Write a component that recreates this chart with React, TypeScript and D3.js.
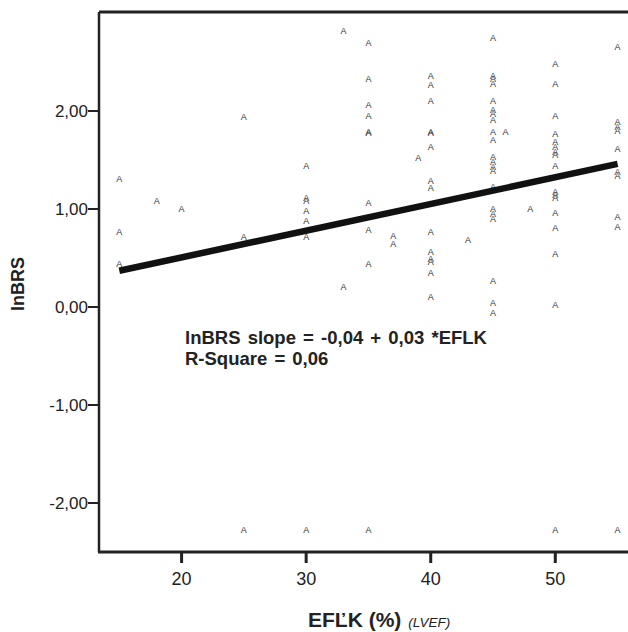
import React, { useEffect, useRef } from 'react';
import * as d3 from 'd3';

// EF levels (x) and the lnBRS values observed at each level
const efLevels = [15, 18, 20, 25, 30, 33, 35, 37, 39, 40, 43, 45, 46, 48, 50, 55];
const lnBrsByEf = [
    [1.31, 0.77, 0.44],
    [1.08],
    [1.0],
    [1.94, 0.71, -2.28],
    [1.44, 1.11, 1.08, 0.98, 0.88, 0.71, -2.28],
    [2.82, 0.2],
    [2.69, 2.33, 2.06, 1.95, 1.79, 1.78, 1.06, 0.79, 0.44, -2.28],
    [0.72, 0.64],
    [1.52],
    [2.36, 2.27, 2.1, 1.79, 1.78, 1.63, 1.29, 1.21, 0.77, 0.56, 0.49, 0.46, 0.35, 0.1],
    [0.68],
    [2.74, 2.36, 2.33, 2.28, 2.1, 2.01, 1.97, 1.91, 1.79, 1.7, 1.53, 1.48, 1.43, 1.39, 1.22, 1.0, 0.95, 0.9, 0.27, 0.04, -0.06],
    [1.79],
    [1.0],
    [2.48, 2.28, 1.95, 1.77, 1.68, 1.63, 1.58, 1.55, 1.44, 1.17, 1.14, 1.11, 0.96, 0.81, 0.54, 0.02, -2.28],
    [2.65, 1.89, 1.84, 1.8, 1.61, 1.38, 1.34, 0.92, 0.82, -2.28],
];

// linear fit lnBRS = a + b * EF, drawn over the observed EF range
const fitIntercept = -0.039;
const fitSlope = 0.02725;
const fitRange = [15, 55];

const xTicks = [20, 30, 40, 50];
const yTicks = [2, 1, 0, -1, -2];
const yTickLabels = ['2,00', '1,00', '0,00', '-1,00', '-2,00'];

const FONT = 'Arial, "Liberation Sans", Helvetica, sans-serif';

const App = () => {
    const svgRef = useRef<SVGSVGElement>(null);
    const width = 628;
    const height = 632;
    const plot = { left: 99, top: 12, bottom: 552, right: 640 };

    useEffect(() => {
        if (!svgRef.current) return;
        const svg = d3.select(svgRef.current);
        svg.selectAll('*').remove();

        const x = d3.scaleLinear().domain([13.37, 56.8]).range([plot.left, plot.right]);
        const y = d3.scaleLinear().domain([-2.5, 3.01]).range([plot.bottom, plot.top]);

        const points = efLevels.flatMap((ef, i) => lnBrsByEf[i].map(v => ({ ef, v })));

        // markers
        svg.append('g')
            .selectAll('text')
            .data(points)
            .join('text')
            .attr('x', d => x(d.ef))
            .attr('y', d => y(d.v))
            .attr('text-anchor', 'middle')
            .attr('dominant-baseline', 'central')
            .attr('font-family', FONT)
            .attr('font-size', 9)
            .attr('fill', '#333')
            .text('A');

        // fit line
        const line = d3.line<number>()
            .x(d => x(d))
            .y(d => y(fitIntercept + fitSlope * d));
        svg.append('path')
            .attr('d', line(fitRange))
            .attr('fill', 'none')
            .attr('stroke', '#111')
            .attr('stroke-width', 6.5);

        // frame
        svg.append('line')
            .attr('x1', plot.left).attr('x2', width)
            .attr('y1', plot.top).attr('y2', plot.top)
            .attr('stroke', '#222').attr('stroke-width', 3);
        svg.append('line')
            .attr('x1', plot.left - 1).attr('x2', width)
            .attr('y1', plot.bottom).attr('y2', plot.bottom)
            .attr('stroke', '#222').attr('stroke-width', 3);
        svg.append('line')
            .attr('x1', plot.left).attr('x2', plot.left)
            .attr('y1', plot.top).attr('y2', plot.bottom)
            .attr('stroke', '#222').attr('stroke-width', 2.5);

        // x axis
        const xAxis = svg.append('g');
        xAxis.selectAll('line')
            .data(xTicks)
            .join('line')
            .attr('x1', d => x(d)).attr('x2', d => x(d))
            .attr('y1', plot.bottom).attr('y2', plot.bottom + 11)
            .attr('stroke', '#222').attr('stroke-width', 3);
        xAxis.selectAll('text')
            .data(xTicks)
            .join('text')
            .attr('x', d => x(d))
            .attr('y', 585)
            .attr('text-anchor', 'middle')
            .attr('font-family', FONT)
            .attr('font-size', 18)
            .attr('fill', '#222')
            .text(d => d);

        // y axis
        const yAxis = svg.append('g');
        yAxis.selectAll('line')
            .data(yTicks)
            .join('line')
            .attr('x1', plot.left - 11).attr('x2', plot.left)
            .attr('y1', d => y(d)).attr('y2', d => y(d))
            .attr('stroke', '#222').attr('stroke-width', 2);
        yAxis.selectAll('text')
            .data(yTicks)
            .join('text')
            .attr('x', plot.left - 11)
            .attr('y', d => y(d))
            .attr('dy', '0.35em')
            .attr('text-anchor', 'end')
            .attr('font-family', FONT)
            .attr('font-size', 17)
            .attr('fill', '#222')
            .text((d, i) => yTickLabels[i]);

        // axis titles
        svg.append('text')
            .attr('transform', 'translate(24,284) rotate(-90)')
            .attr('text-anchor', 'middle')
            .attr('font-family', FONT)
            .attr('font-size', 18)
            .attr('font-weight', 'bold')
            .attr('fill', '#222')
            .text('lnBRS');

        const xTitle = svg.append('text')
            .attr('x', 308)
            .attr('y', 627)
            .attr('font-family', FONT)
            .attr('fill', '#222');
        xTitle.append('tspan')
            .attr('font-size', 21)
            .attr('font-weight', 'bold')
            .text('EFĽK (%)');
        xTitle.append('tspan')
            .attr('font-size', 13.5)
            .attr('font-style', 'italic')
            .attr('dx', 7)
            .text('(LVEF)');

        // fit annotation
        const note = svg.append('g')
            .attr('font-family', FONT)
            .attr('font-size', 18.5)
            .attr('font-weight', 'bold')
            .attr('word-spacing', 2)
            .attr('fill', '#222');
        note.append('text').attr('x', 185).attr('y', 344).text('lnBRS slope = -0,04 + 0,03 *EFLK');
        note.append('text').attr('x', 185).attr('y', 365).text('R-Square = 0,06');
    }, []);

    return (
        <svg
            ref={svgRef}
            width={width}
            height={height}
            style={{ position: 'absolute', left: 0, top: 0, background: '#fff' }}
        />
    );
};

export default App;
